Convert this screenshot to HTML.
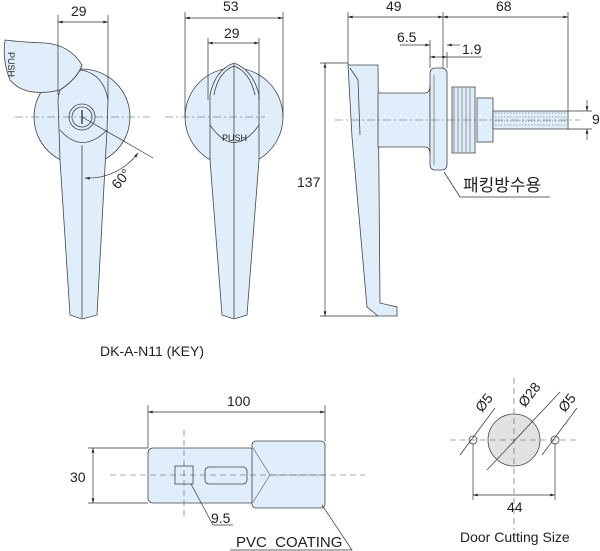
<!DOCTYPE html>
<html><head><meta charset="utf-8"><style>
html,body{margin:0;padding:0;background:#fff}
svg{display:block}
text{font-family:"Liberation Sans","Noto Sans CJK KR",sans-serif;fill:#222}
</style></head><body>
<svg width="600" height="551" viewBox="0 0 600 551" xmlns="http://www.w3.org/2000/svg">
<defs>
<marker id="a" viewBox="0 0 10 6" refX="10" refY="3" markerWidth="8" markerHeight="4" orient="auto-start-reverse"><path d="M0,0L10,3L0,6z" fill="#222"/></marker>
</defs>
<g stroke="#444" stroke-width="0.8" fill="#dfeefa">
<!-- View 1 -->
<circle cx="82" cy="117" r="48"/>
<path d="M58,100 Q60,75 82,70 Q104,75 108,100 L107,130 L97,315 L82,319 L70,315 L60,160 Z"/>
<path d="M60,130 Q82,155 107,130" fill="none"/>
<line x1="82" y1="145" x2="82" y2="318"/>
<circle cx="82" cy="117" r="13"/>
<circle cx="82" cy="117" r="10"/>
<line x1="82" y1="110" x2="82" y2="124" stroke-width="1.5"/>
<path d="M5,40 Q2,60 10,80 Q25,98 60,90 Q78,78 82,65 Q70,45 45,43 Q20,42 5,40 Z"/>
<path d="M60,90 Q78,78 82,65" fill="none"/>
<!-- View 2 -->
<circle cx="234" cy="117" r="49"/>
<path d="M210,95 Q215,70 234,63 Q253,70 259,95 L259,160 L247,315 L234,319 L222,315 L210,160 Z"/>
<path d="M210,125 Q234,160 259,125" fill="none"/>
<path d="M214,95 Q218,72 234,66 Q250,72 255,95" fill="none"/>
<line x1="234" y1="64" x2="234" y2="318"/>
<!-- View 3 handle -->
<path d="M348,65 L378,65 L380,303 L397,307 L397,316 L378,316 L367,307 L352,137 Z"/>
<path d="M350,68 L358,80 L360,135" fill="none"/>
<path d="M378,93 H425 Q430,93 430,85 V155 Q430,147 425,147 H378 Z"/>
<rect x="430" y="68" width="17" height="102" rx="5"/>
<rect x="452" y="87" width="23" height="66"/>
<rect x="477" y="98" width="16" height="44"/>
<rect x="493" y="111" width="75" height="18"/>
<!-- bottom -->
<rect x="148" y="448" width="107" height="55" rx="5"/>
<rect x="252" y="441" width="73" height="67" rx="4"/>
<rect x="175" y="466" width="18" height="18" fill="none"/>
<rect x="205" y="467" width="42" height="17" rx="4" fill="none"/>
<!-- door -->
<circle cx="514" cy="440" r="26" fill="#e2e2e2"/>
<circle cx="473" cy="440" r="4" fill="#fff"/>
<circle cx="555" cy="440" r="4" fill="#fff"/>
</g>
<g stroke="#555" stroke-width="0.6" fill="none">
<path d="M454,88v64M458,88v64M462,88v64M466,88v64M470,88v64"/>
<path d="M495,113h72M495,117h72M495,121h72M495,125h72" stroke-dasharray="1.5 1.5"/>
<path d="M253,448 L270,475 L253,502 M270,475 L325,475"/>
<line x1="434" y1="75" x2="434" y2="165"/>
</g>
<g stroke="#555" stroke-width="0.6" fill="none" stroke-dasharray="8 3 2 3">
<line x1="15" y1="117" x2="150" y2="117"/>
<line x1="165" y1="117" x2="265" y2="117"/>
<line x1="335" y1="120" x2="580" y2="120"/>
</g>
<g stroke="#555" stroke-width="0.6" fill="none" stroke-dasharray="6 4">
<line x1="110" y1="475" x2="365" y2="475"/>
<line x1="184" y1="430" x2="184" y2="520"/>
<line x1="450" y1="440" x2="577" y2="440"/>
<line x1="514" y1="378" x2="514" y2="530"/>
</g>
<g stroke="#333" stroke-width="0.7" fill="none">
<path d="M58,15V95M108,15V100"/>
<line x1="58" y1="22" x2="108" y2="22" marker-start="url(#a)" marker-end="url(#a)"/>
<line x1="82" y1="117" x2="153" y2="158"/>
<path d="M85,178 A62,62 0 0 0 138,153" marker-start="url(#a)" marker-end="url(#a)"/>
<path d="M185,12V117M283,12V117M208,38V100M259,38V100"/>
<line x1="185" y1="18" x2="283" y2="18" marker-start="url(#a)" marker-end="url(#a)"/>
<line x1="208" y1="43" x2="259" y2="43" marker-start="url(#a)" marker-end="url(#a)"/>
<path d="M348,12V65M443,12V68M568,12V111M430,40V68M447,52V68"/>
<line x1="348" y1="17" x2="443" y2="17" marker-start="url(#a)" marker-end="url(#a)"/>
<line x1="443" y1="17" x2="568" y2="17" marker-start="url(#a)" marker-end="url(#a)"/>
<line x1="400" y1="45" x2="430" y2="45" marker-end="url(#a)"/>
<line x1="447" y1="45" x2="460" y2="45" marker-start="url(#a)"/>
<line x1="430" y1="57" x2="447" y2="57" marker-start="url(#a)" marker-end="url(#a)"/>
<line x1="447" y1="57" x2="482" y2="57"/>
<path d="M568,111H592M568,129H592"/>
<line x1="587" y1="100" x2="587" y2="111" marker-end="url(#a)"/>
<line x1="587" y1="140" x2="587" y2="129" marker-end="url(#a)"/>
<path d="M320,63H348M320,316H378"/>
<line x1="325" y1="63" x2="325" y2="316" marker-start="url(#a)" marker-end="url(#a)"/>
<path d="M460,197L444,172M460,197H550"/>
<path d="M148,405V448M325,405V441M88,448H148M88,503H148"/>
<line x1="148" y1="412" x2="325" y2="412" marker-start="url(#a)" marker-end="url(#a)"/>
<line x1="93" y1="448" x2="93" y2="503" marker-start="url(#a)" marker-end="url(#a)"/>
<path d="M191,484L213,525H233"/>
<path d="M230,550H352L322,505"/>
<path d="M473,444V500M555,444V500"/>
<line x1="473" y1="495" x2="555" y2="495" marker-start="url(#a)" marker-end="url(#a)"/>
<line x1="487" y1="470" x2="560" y2="392"/>
<line x1="460" y1="455" x2="495" y2="408"/>
<line x1="542" y1="455" x2="577" y2="408"/>
</g>
<g font-size="14">
<text x="71" y="16">29</text>
<text x="223" y="11">53</text>
<text x="224" y="38">29</text>
<text x="386" y="11">49</text>
<text x="496" y="11">68</text>
<text x="397" y="42">6.5</text>
<text x="462" y="54">1.9</text>
<text x="592" y="124">9</text>
<text x="297" y="187">137</text>
<text x="227" y="406">100</text>
<text x="70" y="482">30</text>
<text x="211" y="523">9.5</text>
<text x="507" y="512">44</text>
<text font-size="9" x="222" y="141">PUSH</text>
<text font-size="9" transform="translate(8,52) rotate(90)">PUSH</text>
<text transform="translate(118,190) rotate(-50)">60°</text>
<text transform="translate(482,413) rotate(-52)">Ø5</text>
<text transform="translate(525,408) rotate(-52)">Ø28</text>
<text transform="translate(565,413) rotate(-52)">Ø5</text>
</g>
<text x="463" y="191" font-size="17">패킹방수용</text>
<text x="100" y="356" font-size="14">DK-A-N11 (KEY)</text>
<text x="236" y="547" font-size="15" xml:space="preserve">PVC  COATING</text>
<text x="460" y="542" font-size="14">Door Cutting Size</text>
</svg>
</body></html>
